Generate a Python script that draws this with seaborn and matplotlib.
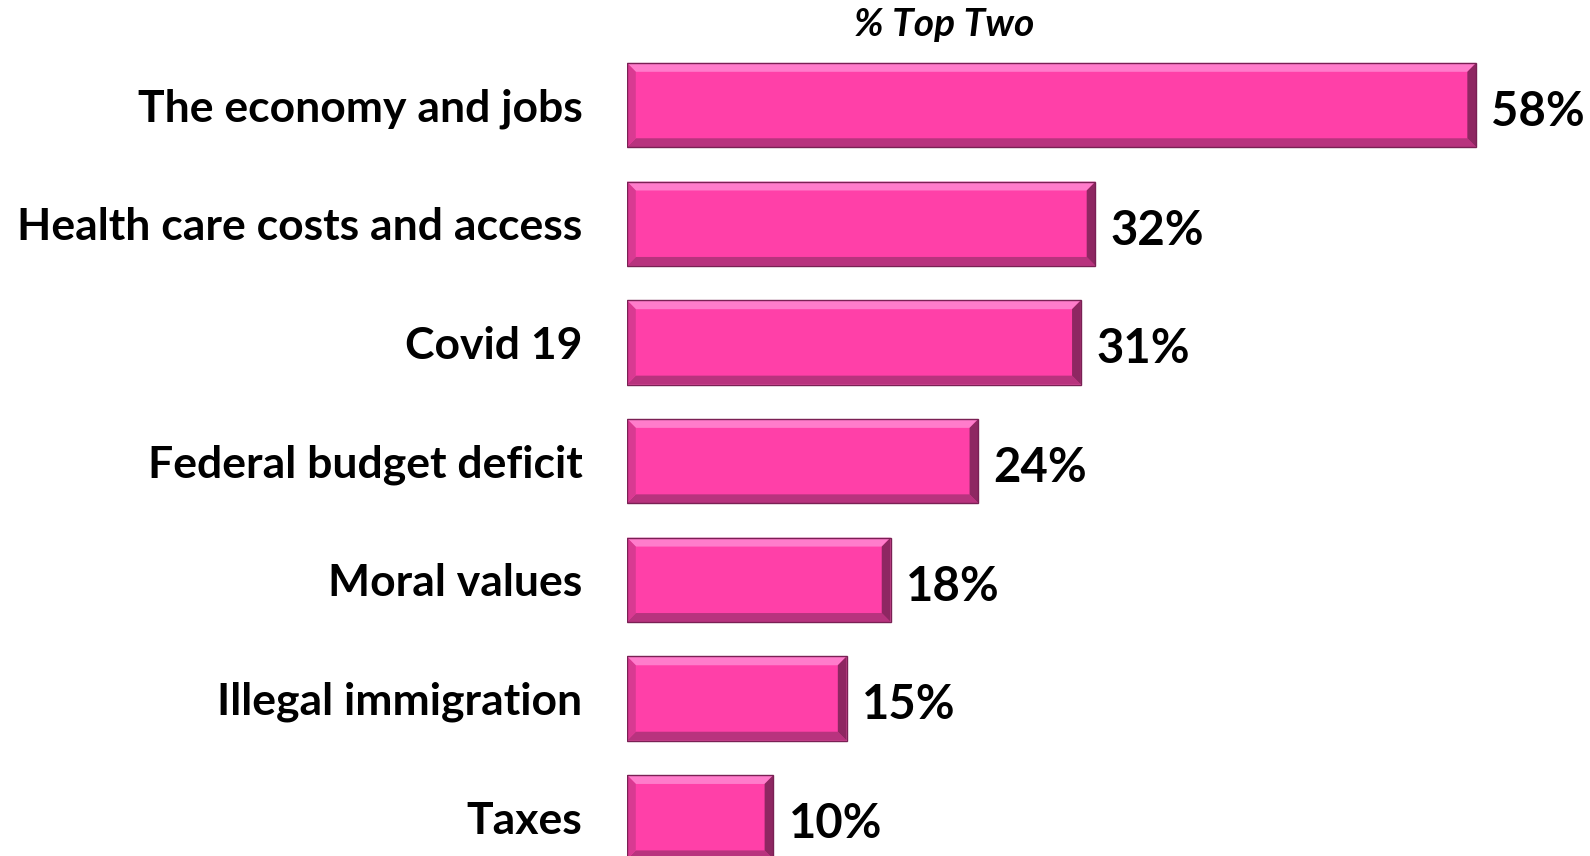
import numpy as np
import pandas as pd
import seaborn as sns
import matplotlib.pyplot as plt
from matplotlib.patches import Polygon

# data
issues = ["The economy and jobs", "Health care costs and access", "Covid 19",
          "Federal budget deficit", "Moral values", "Illegal immigration", "Taxes"]
top_two = [58, 32, 31, 24, 18, 15, 10]
title = "% Top Two"

df = pd.DataFrame({"issue": issues, "pct": top_two})

sns.set_style("white")
plt.rcParams['font.family'] = ['Lato', 'DejaVu Sans']
plt.rcParams['text.color'] = 'black'

fig = plt.figure(figsize=(15.9, 8.56), dpi=100)
ax = fig.add_axes([627 / 1590, 0, 963 / 1590, 1])

main = "#FF40A8"
sns.barplot(data=df, x="pct", y="issue", orient="h", color=main, saturation=1,
            width=0.71, ax=ax)

ax.set_xlim(0, 963 / 14.64)
ax.set_ylim(6.327, -0.885)

# bevel edges on each bar
bx = 0.6   # bevel in x data units
by = 0.075  # bevel in y data units
for p in list(ax.patches):
    x0, y0 = p.get_x(), p.get_y()
    x1, y1 = x0 + p.get_width(), y0 + p.get_height()
    # y axis inverted: y0 is top visually
    top = [(x0, y0), (x1, y0), (x1 - bx, y0 + by), (x0 + bx, y0 + by)]
    bottom = [(x0, y1), (x1, y1), (x1 - bx, y1 - by), (x0 + bx, y1 - by)]
    left = [(x0, y0), (x0 + bx, y0 + by), (x0 + bx, y1 - by), (x0, y1)]
    right = [(x1, y0), (x1 - bx, y0 + by), (x1 - bx, y1 - by), (x1, y1)]
    ax.add_patch(Polygon(top, closed=True, color="#FF7CCB", lw=0))
    ax.add_patch(Polygon(bottom, closed=True, color="#B8337E", lw=0))
    ax.add_patch(Polygon(left, closed=True, color="#D93A92", lw=0))
    ax.add_patch(Polygon(right, closed=True, color="#8E2762", lw=0))
    ax.add_patch(Polygon([(x0, y0), (x1, y0), (x1, y1), (x0, y1)], closed=True,
                         fill=False, edgecolor="#7A2054", lw=1))

labels = ax.bar_label(ax.containers[0], labels=[f"{v}%" for v in top_two],
                      padding=11, fontsize=34, fontweight="bold", color="black")
for t in labels:
    t.xyann = (11, -5)

ax.set_xlabel("")
ax.set_ylabel("")
ax.set_xticks([])
ax.tick_params(axis="y", length=0, pad=32)
for t in ax.get_yticklabels():
    t.set_fontsize(32)
    t.set_fontweight("bold")
    t.set_color("black")
sns.despine(ax=ax, left=True, bottom=True)

fig.text((944 / 1590), 1 - 25 / 856, title, ha="center", va="center",
         fontsize=28, fontweight="bold", style="italic", color="black")

fig.savefig("out.png", dpi=100)
